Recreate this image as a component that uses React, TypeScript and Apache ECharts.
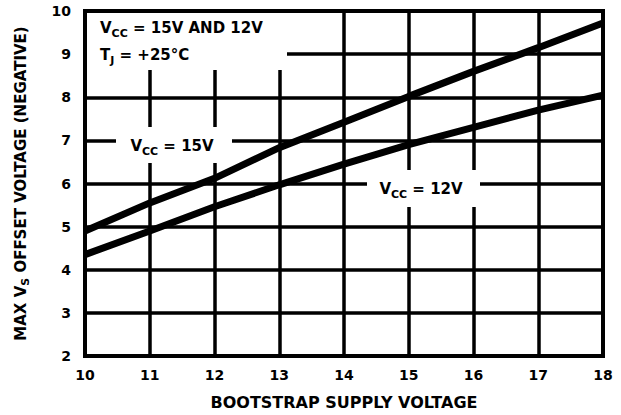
import React, { useEffect, useRef } from "react";
import * as echarts from "echarts";

const xTicks = [10, 11, 12, 13, 14, 15, 16, 17, 18];
const vcc15 = [4.9, 5.55, 6.12, 6.83, 7.42, 8.02, 8.6, 9.15, 9.72];
const vcc12 = [4.35, 4.9, 5.46, 5.97, 6.45, 6.9, 7.3, 7.7, 8.05];

const FONT = "'DejaVu Sans', sans-serif";

const richBase = {
  b: { fontFamily: FONT, fontWeight: "bold", fontSize: 15, color: "#000" },
  s: { fontFamily: FONT, fontWeight: "bold", fontSize: 11, color: "#000", padding: [10, 0, 0, 0] },
};

export default function App() {
  const ref = useRef<HTMLDivElement>(null);
  useEffect(() => {
    if (!ref.current) return;
    const chart = echarts.init(ref.current, undefined, { renderer: "svg" });
    const toPairs = (ys: number[]) => xTicks.map((x, i) => [x, ys[i]]);
    chart.setOption({
      animation: false,
      backgroundColor: "#fff",
      grid: {
        left: 85,
        right: 18,
        top: 11,
        bottom: 58,
        show: true,
        borderColor: "#000",
        borderWidth: 4,
      },
      xAxis: {
        type: "value",
        min: 10,
        max: 18,
        interval: 1,
        axisLine: { show: false },
        axisTick: { show: false },
        splitLine: { show: true, lineStyle: { color: "#000", width: 3.5 } },
        axisLabel: {
          margin: 12,
          fontFamily: FONT,
          fontWeight: "bold",
          fontSize: 14,
          color: "#000",
        },
        name: "BOOTSTRAP SUPPLY VOLTAGE",
        nameLocation: "middle",
        nameGap: 38,
        nameTextStyle: {
          fontFamily: FONT,
          fontWeight: "bold",
          fontSize: 16,
          color: "#000",
        },
      },
      yAxis: {
        type: "value",
        min: 2,
        max: 10,
        interval: 1,
        axisLine: { show: false },
        axisTick: { show: false },
        splitLine: { show: true, lineStyle: { color: "#000", width: 3.5 } },
        axisLabel: {
          margin: 14,
          fontFamily: FONT,
          fontWeight: "bold",
          fontSize: 14,
          color: "#000",
        },
        name: "{b|MAX V}{s|S}{b| OFFSET VOLTAGE (NEGATIVE)}",
        nameLocation: "middle",
        nameGap: 54,
        nameTextStyle: {
          rich: {
            b: { fontFamily: FONT, fontWeight: "bold", fontSize: 15, color: "#000" },
            s: { fontFamily: FONT, fontWeight: "bold", fontSize: 11, color: "#000", padding: [9, 0, 0, 0] },
          },
        },
      },
      graphic: [
        { type: "rect", z: 5, shape: { x: 87, y: 13, width: 200, height: 57 }, style: { fill: "#fff" } },
        { type: "rect", z: 5, shape: { x: 116, y: 127, width: 116, height: 36 }, style: { fill: "#fff" } },
        { type: "rect", z: 5, shape: { x: 367, y: 170, width: 113, height: 37 }, style: { fill: "#fff" } },
        {
          type: "text", z: 6, x: 100, y: 28,
          style: { text: "{b|V}{s|CC}{b| = 15V AND 12V}", rich: richBase, verticalAlign: "middle", align: "left" },
        },
        {
          type: "text", z: 6, x: 100, y: 55,
          style: { text: "{b|T}{s|J}{b| = +25°C}", rich: richBase, verticalAlign: "middle", align: "left" },
        },
        {
          type: "text", z: 6, x: 172, y: 146,
          style: { text: "{b|V}{s|CC}{b| = 15V}", rich: richBase, verticalAlign: "middle", align: "center" },
        },
        {
          type: "text", z: 6, x: 421, y: 189,
          style: { text: "{b|V}{s|CC}{b| = 12V}", rich: richBase, verticalAlign: "middle", align: "center" },
        },
      ],
      series: [
        {
          name: "VCC = 15V",
          type: "line",
          data: toPairs(vcc15),
          showSymbol: false,
          symbol: "none",
          z: 10,
          lineStyle: { color: "#000", width: 7 },
        },
        {
          name: "VCC = 12V",
          type: "line",
          data: toPairs(vcc12),
          showSymbol: false,
          symbol: "none",
          z: 10,
          lineStyle: { color: "#000", width: 7 },
        },
      ],
    });
    return () => chart.dispose();
  }, []);
  return (
    <div
      ref={ref}
      style={{ position: "fixed", left: 0, top: 0, width: 621, height: 415, background: "#fff" }}
    />
  );
}
